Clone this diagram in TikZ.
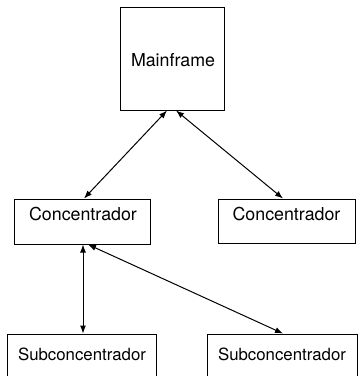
\documentclass[tikz,border=0pt]{standalone}
\usepackage{fontspec}
\setmainfont{TeX Gyre Heros}
\usetikzlibrary{arrows.meta,calc}
\begin{document}
\begin{tikzpicture}[x=1pt,y=-1pt,
  box/.style={draw,line width=1pt,inner sep=0pt},
  lbl/.style={inner sep=0pt,font=\fontsize{17.8}{20}\selectfont},
  slbl/.style={inner sep=0pt,font=\fontsize{16.8}{19}\selectfont},
  link/.style={line width=1pt,{Latex[length=8pt,width=6pt]}-{Latex[length=8pt,width=6pt]}}]
\useasboundingbox (0,0) rectangle (360,376);
\clip (0,0) rectangle (360,376);
\node[box,minimum width=104pt,minimum height=103pt] (main) at (172.5,58.5) {};
\node[lbl] (maint) at (173,60) {Mainframe};
\node[box,minimum width=136pt,minimum height=45pt] (cL) at (82,221.5) {};
\node[lbl] (cLt) at (83,214) {Concentrador};
\node[box,minimum width=137pt,minimum height=44pt] (cR) at (286.5,221) {};
\node[lbl] (cRt) at (286.5,214) {Concentrador};
\node[box,minimum width=148pt,minimum height=66pt] (sL) at (82,367) {};
\node[lbl,slbl] (sLt) at (82,354) {Subconcentrador};
\node[box,minimum width=150pt,minimum height=66pt] (sR) at (282,367) {};
\node[lbl,slbl] (sRt) at (282,354) {Subconcentrador};
\draw[link] ($(main.south)+(-5.5,0)$) -- ($(cL.north)+(2,0)$);
\draw[link] ($(main.south)+(3.5,0)$) -- ($(cR.north)+(-3.5,0)$);
\draw[link] ($(cL.south)+(1,0)$) -- ($(sL.north)+(1,0)$);
\draw[link] ($(cL.south)+(6,0)$) -- ($(sR.north)+(1,0)$);
\end{tikzpicture}
\end{document}
